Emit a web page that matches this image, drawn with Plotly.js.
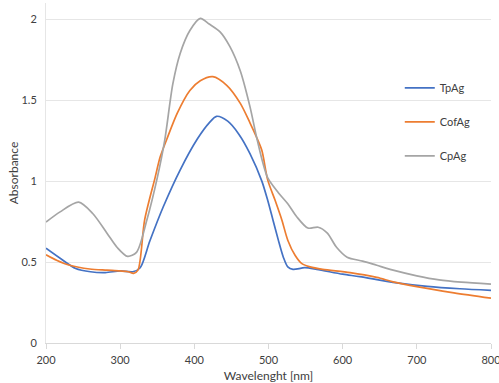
<!DOCTYPE html>
<html>
<head>
<meta charset="utf-8">
<script src="https://cdn.plot.ly/plotly-3.0.1.min.js"></script>
<style>html,body{margin:0;padding:0;background:#fff;}#chart{width:499px;height:383px;}</style>
</head>
<body>
<div id="chart"></div>
<script>
// TpAg
const tpX = [200,220,240,260,280,300,317,327,340,358,381,404,420,430,445,460,475,491,499,506,513,520,526,533,549,565,600,623,668,714,758,800];
const tpY = [0.585,0.52,0.46,0.44,0.435,0.445,0.44,0.465,0.63,0.84,1.07,1.26,1.36,1.40,1.37,1.29,1.17,1.00,0.88,0.76,0.64,0.53,0.47,0.455,0.465,0.455,0.425,0.41,0.375,0.35,0.335,0.325];
// CofAg
const cofX = [200,215,232,259,282,300,311,318,324,333,347,354,363,377,394,408,425,444,462,475,484,491,499,509,518,526,536,545,556,573,610,646,668,700,750,800];
const cofY = [0.545,0.51,0.48,0.457,0.45,0.445,0.44,0.43,0.45,0.76,1.02,1.15,1.26,1.42,1.56,1.62,1.645,1.59,1.48,1.36,1.27,1.19,1.006,0.88,0.76,0.635,0.54,0.49,0.47,0.455,0.435,0.405,0.378,0.348,0.31,0.277];
// CpAg
const cpX = [200,219,244,263,282,296,310,322,336,350,360,371,381,394,408,420,435,448,462,475,484,492,499,513,526,538,553,567,579,592,606,627,646,668,700,730,760,800];
const cpY = [0.747,0.81,0.87,0.80,0.68,0.59,0.535,0.56,0.76,1.02,1.25,1.6,1.79,1.93,2.005,1.97,1.92,1.83,1.68,1.46,1.27,1.12,1.02,0.93,0.86,0.78,0.71,0.715,0.68,0.59,0.53,0.506,0.48,0.45,0.415,0.39,0.376,0.364];

const names = ['TpAg','CofAg','CpAg'];
const xTicks = [200,300,400,500,600,700,800];
const yTicks = [0,0.5,1,1.5,2];
const yTickText = ['0','0.5','1','1.5','2'];

const colors = ['#4472C4','#ED7D31','#A5A5A5'];
const series = [[tpX,tpY],[cofX,cofY],[cpX,cpY]];
const data = series.map((s,i)=>({
  x:s[0], y:s[1], name:names[i], type:'scatter', mode:'lines',
  line:{color:colors[i], width:1.7, shape:'spline', smoothing:0.8},
  legendgroup:'g'+i, hoverinfo:'skip'
}));

const font = {family:'Lato, "Open Sans", sans-serif', size:11, color:'#404040'};
const layout = {
  width:499, height:383,
  margin:{l:46, r:8, t:3, b:40},
  paper_bgcolor:'#fff', plot_bgcolor:'#fff',
  font:font,
  showlegend:true,
  legend:{x:0.795, xanchor:'left', y:0.793, yanchor:'top', bgcolor:'rgba(0,0,0,0)',
          traceorder:'grouped', tracegroupgap:15, font:{family:font.family, size:11, color:'#404040'}},
  xaxis:{range:[200,800], tickvals:xTicks, ticktext:xTicks.map(String), showgrid:false, zeroline:false,
         showline:true, linecolor:'#d9d9d9', linewidth:1, ticks:'outside', ticklen:5, tickcolor:'#d9d9d9',
         ticklabeloverflow:'allow', ticklabelstandoff:2,
         tickfont:{family:font.family, size:11, color:'#404040'},
         title:{text:'Wavelenght [nm]', standoff:7, font:{family:font.family, size:12, color:'#404040'}}},
  yaxis:{range:[0,2.1], tickvals:yTicks, ticktext:yTickText, showgrid:true, gridcolor:'#e6e6e6', gridwidth:1,
         zeroline:false, showline:true, linecolor:'#e6e6e6', ticks:'', ticklabelstandoff:6,
         tickfont:{family:font.family, size:11, color:'#404040'},
         title:{text:'Absorbance', standoff:0, font:{family:font.family, size:12, color:'#404040'}}}
};
Plotly.newPlot('chart', data, layout, {displayModeBar:false, staticPlot:true});
</script>
</body>
</html>
